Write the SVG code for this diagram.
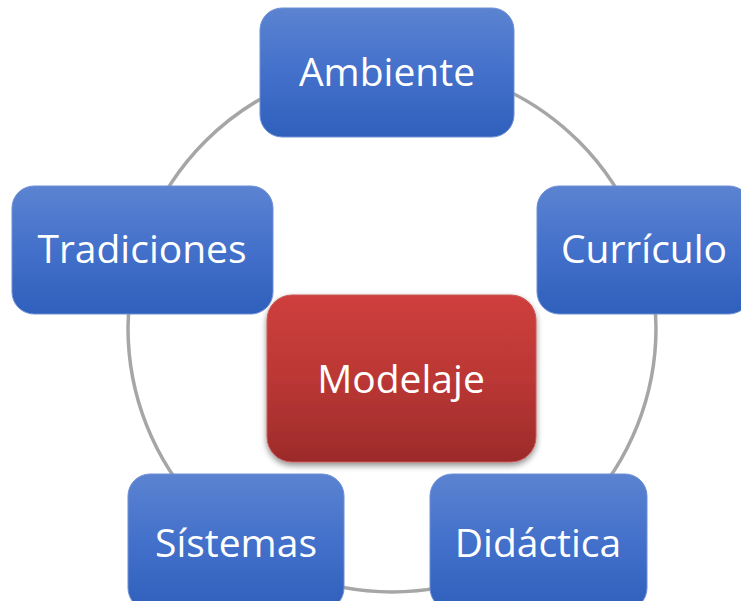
<svg xmlns="http://www.w3.org/2000/svg" width="741" height="601" viewBox="0 0 741 601">
<style>
.lbl{font-family:"Open Sans","Noto Sans",sans-serif;font-size:39px;fill:#ffffff;text-anchor:middle}
.blue{fill:url(#gb);stroke:#6f8fd6;stroke-width:1}
.red{fill:url(#gr);stroke:#c85a58;stroke-width:1}
</style>
<defs>
<linearGradient id="gb" x1="0" y1="0" x2="0" y2="1">
<stop offset="0" stop-color="#5b83d1"/>
<stop offset="0.5" stop-color="#4370ca"/>
<stop offset="1" stop-color="#2f60bc"/>
</linearGradient>
<linearGradient id="gr" x1="0" y1="0" x2="0" y2="1">
<stop offset="0" stop-color="#ce3f3c"/>
<stop offset="0.5" stop-color="#bb3735"/>
<stop offset="1" stop-color="#9c2b2a"/>
</linearGradient>
<filter id="sh" x="-10%" y="-10%" width="120%" height="130%">
<feGaussianBlur in="SourceAlpha" stdDeviation="3"/>
<feOffset dy="3" result="b"/>
<feComponentTransfer><feFuncA type="linear" slope="0.45"/></feComponentTransfer>
<feMerge><feMergeNode/><feMergeNode in="SourceGraphic"/></feMerge>
</filter>
</defs>
<g id="connectors">
<circle cx="392" cy="328" r="264" fill="none" stroke="#a6a6a6" stroke-width="3.5"/>
</g>
<g id="ambiente">
<rect class="blue" x="260" y="8" width="254" height="129" rx="22"/>
<text class="lbl" x="387" y="86">Ambiente</text>
</g>
<g id="tradiciones">
<rect class="blue" x="12" y="186" width="261" height="128" rx="22"/>
<text class="lbl" x="142" y="263">Tradiciones</text>
</g>
<g id="curriculo">
<rect class="blue" x="537" y="186" width="214" height="128" rx="22"/>
<text class="lbl" x="644" y="263">Currículo</text>
</g>
<g id="sistemas">
<rect class="blue" x="128" y="474" width="216" height="136" rx="22"/>
<text class="lbl" x="236" y="557">Sístemas</text>
</g>
<g id="didactica">
<rect class="blue" x="430" y="474" width="217" height="136" rx="22"/>
<text class="lbl" x="538" y="557">Didáctica</text>
</g>
<g id="modelaje">
<rect class="red" x="267" y="295" width="269" height="167" rx="25" filter="url(#sh)"/>
<text class="lbl" x="401" y="393">Modelaje</text>
</g>
</svg>
